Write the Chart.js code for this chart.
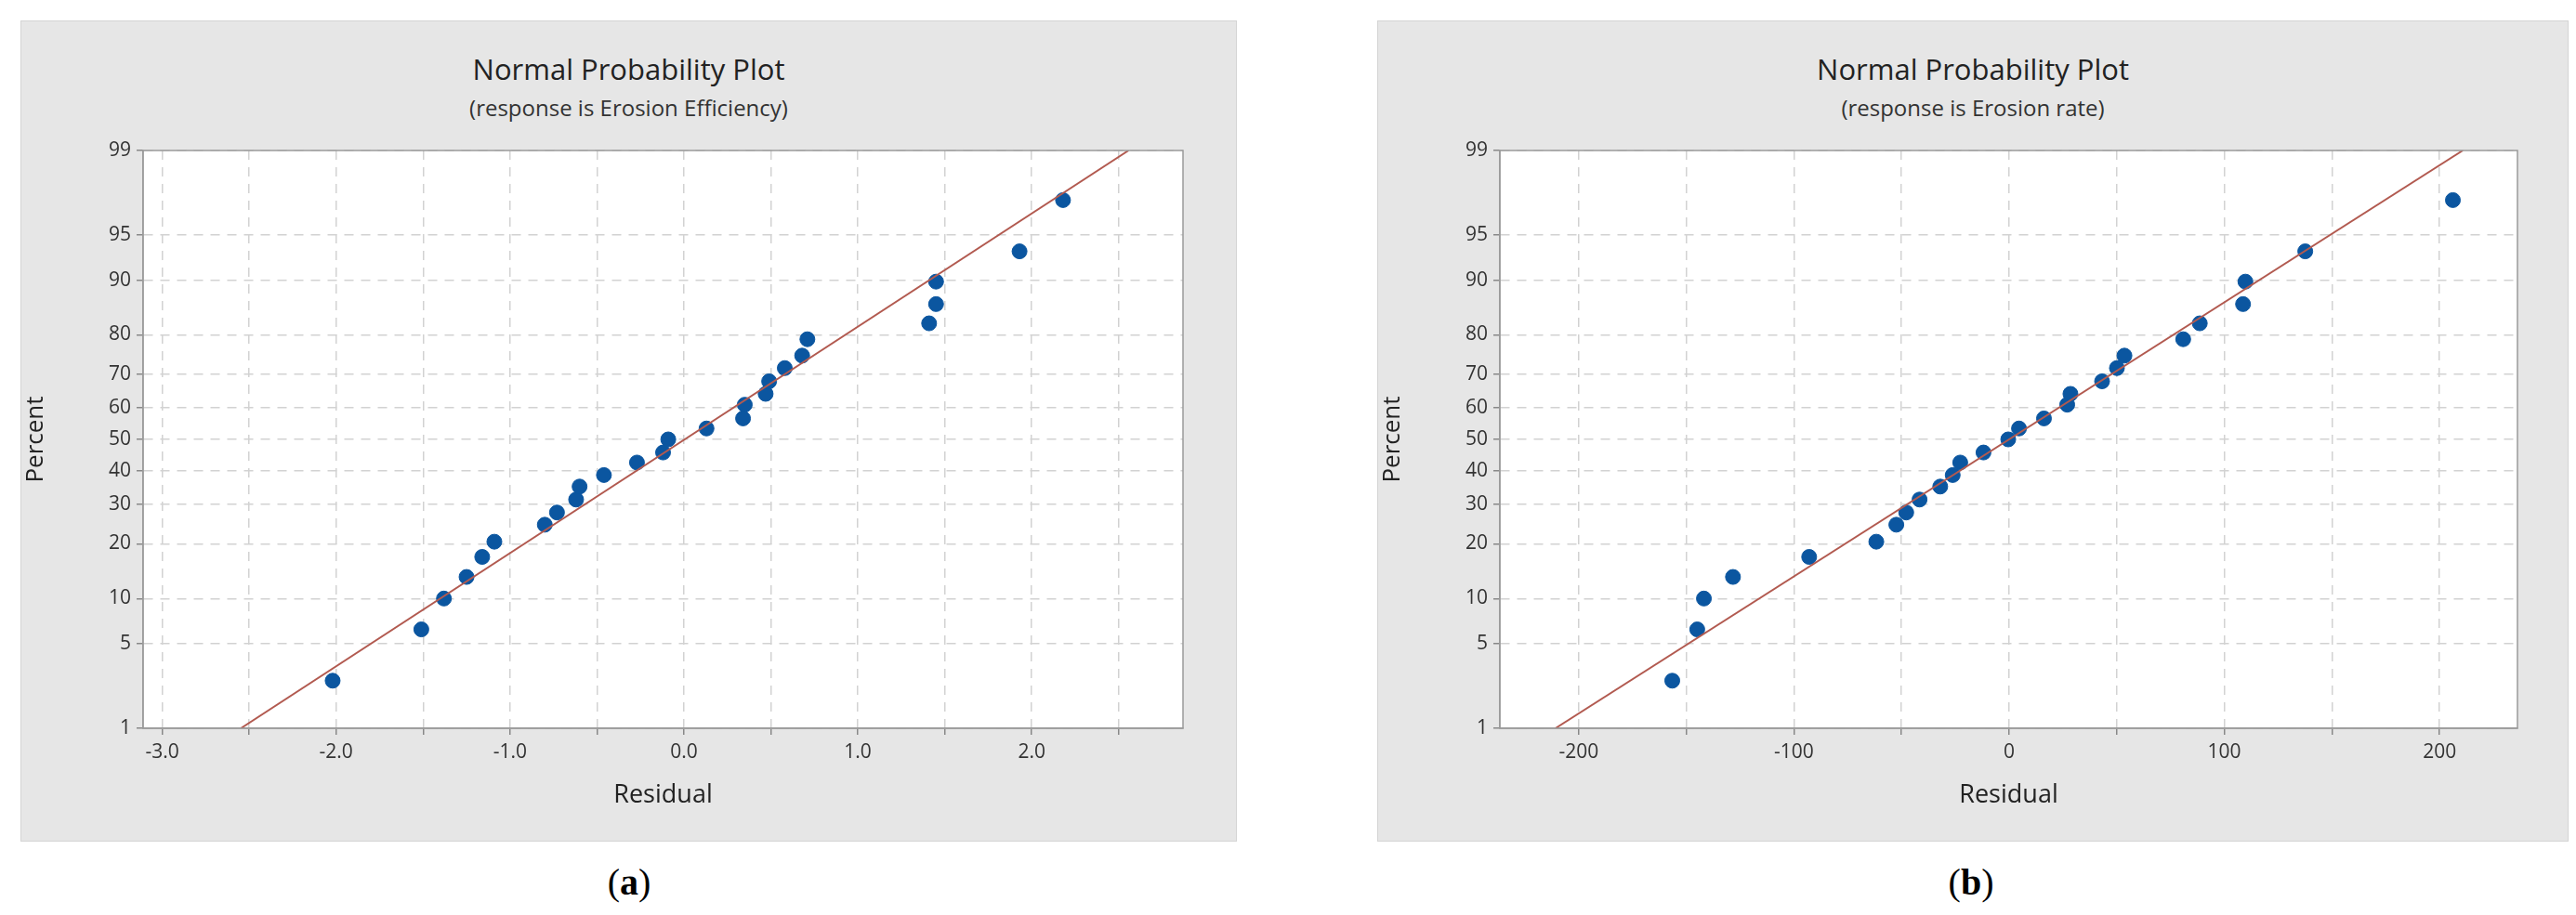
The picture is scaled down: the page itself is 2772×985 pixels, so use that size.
<!DOCTYPE html>
<html><head><meta charset="utf-8">
<script src="https://cdn.jsdelivr.net/npm/chart.js@4/dist/chart.umd.min.js"></script>
<style>
body{margin:0;background:#fff;width:2772px;height:985px;position:relative;overflow:hidden;font-family:"Open Sans","Noto Sans",sans-serif;}
.box{position:absolute;background:#e6e6e6;border:1px solid #d4d4d4;box-sizing:border-box;}
.t1{position:absolute;width:100%;text-align:center;font-size:31px;color:#222;top:30px;}
.t2{position:absolute;width:100%;text-align:center;font-size:24px;color:#333;top:76px;}
.lab{position:absolute;font-family:"Liberation Serif","DejaVu Serif",serif;font-size:40px;color:#000;transform:translateX(-50%);top:926px;}
canvas{position:absolute;left:0;top:0;}
</style></head><body>
<div class="box" id="boxA" style="left:22px;top:22px;width:1309px;height:884px;">
 <div class="t1">Normal Probability Plot</div><div class="t2">(response is Erosion Efficiency)</div>
 <canvas id="cA" width="1309" height="884"></canvas></div>
<div class="box" id="boxB" style="left:1482px;top:22px;width:1282px;height:884px;">
 <div class="t1">Normal Probability Plot</div><div class="t2">(response is Erosion rate)</div>
 <canvas id="cB" width="1282" height="884"></canvas></div>
<div class="lab" style="left:677px">(<b>a</b>)</div>
<div class="lab" style="left:2121px">(<b>b</b>)</div>
<script>
const percentTicks=[1,5,10,20,30,40,50,60,70,80,90,95,99];
const percentPts=[2.6,6.3,10,13.4,17.2,20.5,24.6,27.8,31.4,35.2,38.7,42.6,45.8,50,53.5,56.7,61,64.3,68,71.7,75,79,82.5,86.2,89.8,93.5,97.3];
const residA=[-2.02,-1.51,-1.38,-1.25,-1.16,-1.09,-0.80,-0.73,-0.62,-0.60,-0.46,-0.27,-0.12,-0.09,0.13,0.34,0.35,0.47,0.49,0.58,0.68,0.71,1.41,1.45,1.45,1.93,2.18];
const residB=[-156.5,-144.9,-141.8,-128.3,-92.9,-61.7,-52.4,-47.8,-41.6,-32.0,-26.2,-22.7,-11.9,-0.4,4.6,16.2,27.0,28.5,43.2,50.1,53.6,80.9,88.6,108.7,109.8,137.6,206.2];
const fitLinePct=[1,99];
const fitLineA=[-2.548,2.557];
const fitLineB=[-210.8,210.8];
const xTicksA=[-3,-2.5,-2,-1.5,-1,-0.5,0,0.5,1,1.5,2,2.5];
const xTicksB=[-200,-150,-100,-50,0,50,100,150,200];

function ninv(p){const a=[-39.69683028665376,220.9460984245205,-275.9285104469687,138.3577518672690,-30.66479806614716,2.506628277459239],
b=[-54.47609879822406,161.5858368580409,-155.6989798598866,66.80131188771972,-13.28068155288572],
c=[-0.007784894002430293,-0.3223964580411365,-2.400758277161838,-2.549732539343734,4.374664141464968,2.938163982698783],
d=[0.007784695709041462,0.3224671290700398,2.445134137142996,3.754408661907416];
const pl=0.02425;let q,r;
if(p<pl){q=Math.sqrt(-2*Math.log(p));return (((((c[0]*q+c[1])*q+c[2])*q+c[3])*q+c[4])*q+c[5])/((((d[0]*q+d[1])*q+d[2])*q+d[3])*q+1);}
if(p>1-pl){q=Math.sqrt(-2*Math.log(1-p));return -(((((c[0]*q+c[1])*q+c[2])*q+c[3])*q+c[4])*q+c[5])/((((d[0]*q+d[1])*q+d[2])*q+d[3])*q+1);}
q=p-0.5;r=q*q;return (((((a[0]*r+a[1])*r+a[2])*r+a[3])*r+a[4])*r+a[5])*q/(((((b[0]*r+b[1])*r+b[2])*r+b[3])*r+b[4])*r+1);}
const z=p=>ninv(p/100);

function make(id,resid,fit,xmin,xmax,xt,fmt,rightPad){
 const ctx=document.getElementById(id);
 new Chart(ctx,{type:'scatter',
  data:{datasets:[
   {type:'line',data:fit.map((x,i)=>({x:x,y:z(fitLinePct[i])})),borderColor:'#b25a50',borderWidth:2,pointRadius:0,fill:false},
   {data:resid.map((x,i)=>({x:x,y:z(percentPts[i])})),backgroundColor:'#0b56a0',borderColor:'#0b56a0',pointRadius:8,pointHoverRadius:8}
  ]},
  options:{responsive:false,animation:false,events:[],
   layout:{padding:{top:139,right:rightPad,left:0,bottom:0}},
   plugins:{legend:{display:false},tooltip:{enabled:false},
    bgPlot:{}},
   scales:{
    x:{type:'linear',min:xmin,max:xmax,
     afterBuildTicks:s=>{s.ticks=xt.map(v=>({value:v}));},
     afterFit:s=>{s.height=123;},
     ticks:{callback:v=>fmt(v),color:'#333',font:{size:21,family:'Open Sans'},padding:6,autoSkip:false,maxRotation:0},
     grid:{color:'#d2d2d2',lineWidth:1.5,tickLength:7,tickColor:'#888',drawOnChartArea:true},
     border:{display:true,color:'#999',width:1.5,dash:[10,8]},
     title:{display:true,text:'Residual',color:'#222',font:{size:27,family:'Open Sans'},padding:{top:0,bottom:34}}},
    y:{type:'linear',min:z(1),max:z(99),
     afterBuildTicks:s=>{s.ticks=percentTicks.map(p=>({value:z(p)}));},
     afterFit:s=>{s.width=131;},
     ticks:{callback:(v,i)=>String(percentTicks[i]),color:'#333',font:{size:21,family:'Open Sans'},padding:6,autoSkip:false},
     grid:{color:'#d2d2d2',lineWidth:1.5,tickLength:7,tickColor:'#888'},
     border:{display:true,color:'#999',width:1.5,dash:[10,8]},
     title:{display:true,text:'Percent',color:'#222',font:{size:26,family:'Open Sans'},padding:{top:0,bottom:6}}}
   }},
  plugins:[{id:'bgPlot',beforeDraw(ch){const a=ch.chartArea,c=ch.ctx;c.save();c.fillStyle='#fff';c.fillRect(a.left,a.top,a.width,a.height);c.restore();},
   afterDraw(ch){const a=ch.chartArea,c=ch.ctx;c.save();c.strokeStyle='#9a9a9a';c.lineWidth=1.5;c.strokeRect(a.left,a.top,a.width,a.height);c.restore();}}]
 });
}
make('cA',residA,fitLineA,-3.11,2.87,xTicksA,v=>Number.isInteger(v)?v.toFixed(1):'',59);
make('cB',residB,fitLineB,-236.6,236.2,xTicksB,v=>v%100===0?String(v):'',56);
</script></body></html>
